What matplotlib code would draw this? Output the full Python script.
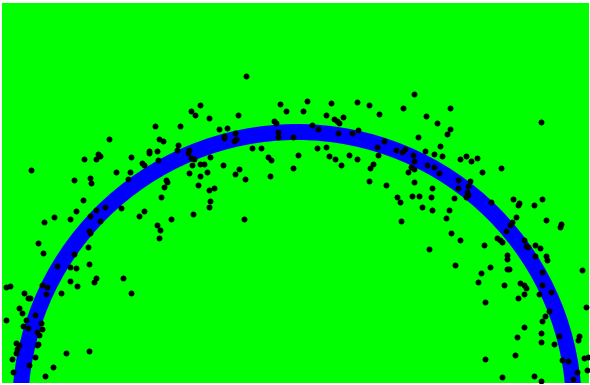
import numpy as np
import matplotlib
matplotlib.use("Agg")
import matplotlib.pyplot as plt
from matplotlib.patches import Circle

# scatter points (x to the right, y downwards, pixel-like units)
pts_x = [109, 98, 100, 96, 84, 131, 142, 144, 149, 31,
         246, 200, 191, 195, 209, 238, 280, 286, 274, 276, 155, 180, 219, 227, 235, 224, 224, 236, 234,
         278, 278, 293, 159, 163, 178, 177, 149, 157, 189, 188, 252, 261, 191, 194, 210, 268, 271, 158,
         192, 200, 204, 223, 239, 293,
         307, 331, 357, 369, 414, 303, 326, 343, 334, 337, 339, 379, 403, 426, 437, 312, 318, 338, 352,
         358, 418, 384, 440, 317, 326, 377, 396, 402, 405, 425, 434, 298, 329, 335, 349, 357, 378, 413,
         414, 341, 373, 370, 411, 427, 434,
         450, 541, 450, 447, 442, 460, 466, 471, 477, 501,
         74, 90, 91, 116, 130, 128, 83, 76, 96, 105, 121, 139, 144, 54, 70, 44, 90, 100, 89, 90, 38, 43,
         88, 74, 89, 57, 70, 76,
         189, 207, 200, 235, 245, 270, 166, 167, 164, 198, 209, 214, 161, 210, 209, 193, 171, 244, 157,
         160, 159,
         369, 386, 408, 414, 414, 432, 397, 400, 412, 419, 431, 422, 432, 401, 429,
         482, 439, 458, 470, 458, 468, 467, 468, 466, 454, 491, 513, 542, 518, 519, 534, 449, 446, 516,
         546, 512, 510, 561, 560, 506, 451, 497, 500, 502, 460, 524, 484, 526, 528, 535, 540, 507, 535,
         546, 547, 507, 455, 490, 507, 509, 542, 582, 481,
         6, 10, 42, 47, 70, 77, 94, 96, 123, 131, 24, 28, 30, 46, 61, 19, 22, 6, 35, 26, 41, 23, 28, 42,
         37, 39, 16, 19, 38, 37, 17, 16, 66, 89, 35, 12, 29, 53, 13, 45,
         478, 504, 520, 524, 526, 524, 518, 542, 539, 551, 485, 586, 549, 545, 542, 524, 541, 517, 559,
         579, 541, 554, 578, 515, 485, 562, 568, 584, 588, 577, 587, 502, 534, 573, 541]
pts_y = [139, 154, 156, 159, 159, 157, 163, 165, 153, 170,
         76, 105, 111, 115, 118, 115, 104, 111, 121, 123, 126, 126, 129, 128, 133, 136, 138, 139, 141,
         132, 137, 137, 139, 141, 145, 150, 151, 151, 150, 153, 148, 148, 158, 159, 157, 157, 160, 160,
         165, 164, 164, 165, 169, 168,
         101, 103, 102, 105, 94, 111, 115, 117, 119, 121, 123, 114, 108, 116, 123, 125, 129, 133, 133,
         130, 137, 141, 146, 148, 147, 147, 150, 152, 149, 151, 154, 155, 156, 159, 155, 159, 155, 155,
         161, 165, 164, 168, 167, 165, 167,
         108, 122, 129, 134, 156, 159, 156, 161, 158, 168,
         180, 178, 183, 172, 172, 179, 200, 211, 210, 207, 208, 216, 211, 217, 219, 222, 216, 221, 231,
         233, 243, 253, 247, 254, 264, 266, 267, 268,
         173, 172, 176, 174, 179, 176, 180, 182, 187, 185, 190, 188, 197, 201, 207, 214, 219, 219, 225,
         230, 238,
         181, 185, 172, 169, 182, 188, 197, 202, 196, 196, 197, 207, 210, 221, 249,
         172, 173, 180, 181, 188, 186, 192, 195, 197, 198, 202, 199, 199, 205, 203, 205, 210, 218, 217,
         220, 222, 225, 224, 227, 231, 233, 238, 240, 242, 240, 240, 245, 246, 247, 245, 248, 255, 256,
         256, 260, 259, 265, 267, 269, 269, 272, 270, 273,
         287, 286, 285, 287, 281, 286, 282, 278, 278, 293, 293, 298, 298, 294, 293, 308, 313, 320, 315,
         320, 323, 326, 328, 329, 332, 335, 343, 345, 344, 345, 349, 353, 353, 351, 357, 359, 365, 367,
         372, 376,
         282, 285, 283, 285, 288, 294, 298, 285, 294, 292, 302, 307, 311, 316, 321, 327, 333, 337, 336,
         336, 342, 344, 340, 355, 359, 360, 361, 358, 357, 372, 370, 377, 376, 379, 381]

# fitted circle
circle_center = (297, 409)
circle_radius = 277

fig = plt.figure(figsize=(5.9, 3.85), dpi=100)
ax = fig.add_axes([2 / 590, 2 / 385, 587 / 590, 380 / 385])
ax.set_facecolor('#00ff00')
ax.set_xlim(2, 589)
ax.set_ylim(383, 3)

ring = Circle(circle_center, circle_radius, fill=False, edgecolor='#0000ff', linewidth=11.5)
ax.add_patch(ring)
ax.scatter(pts_x, pts_y, s=18, color='black', zorder=3, linewidths=0)

for side in ax.spines.values():
    side.set_visible(False)
ax.set_xticks([])
ax.set_yticks([])

plt.savefig('out.png', dpi=100)
